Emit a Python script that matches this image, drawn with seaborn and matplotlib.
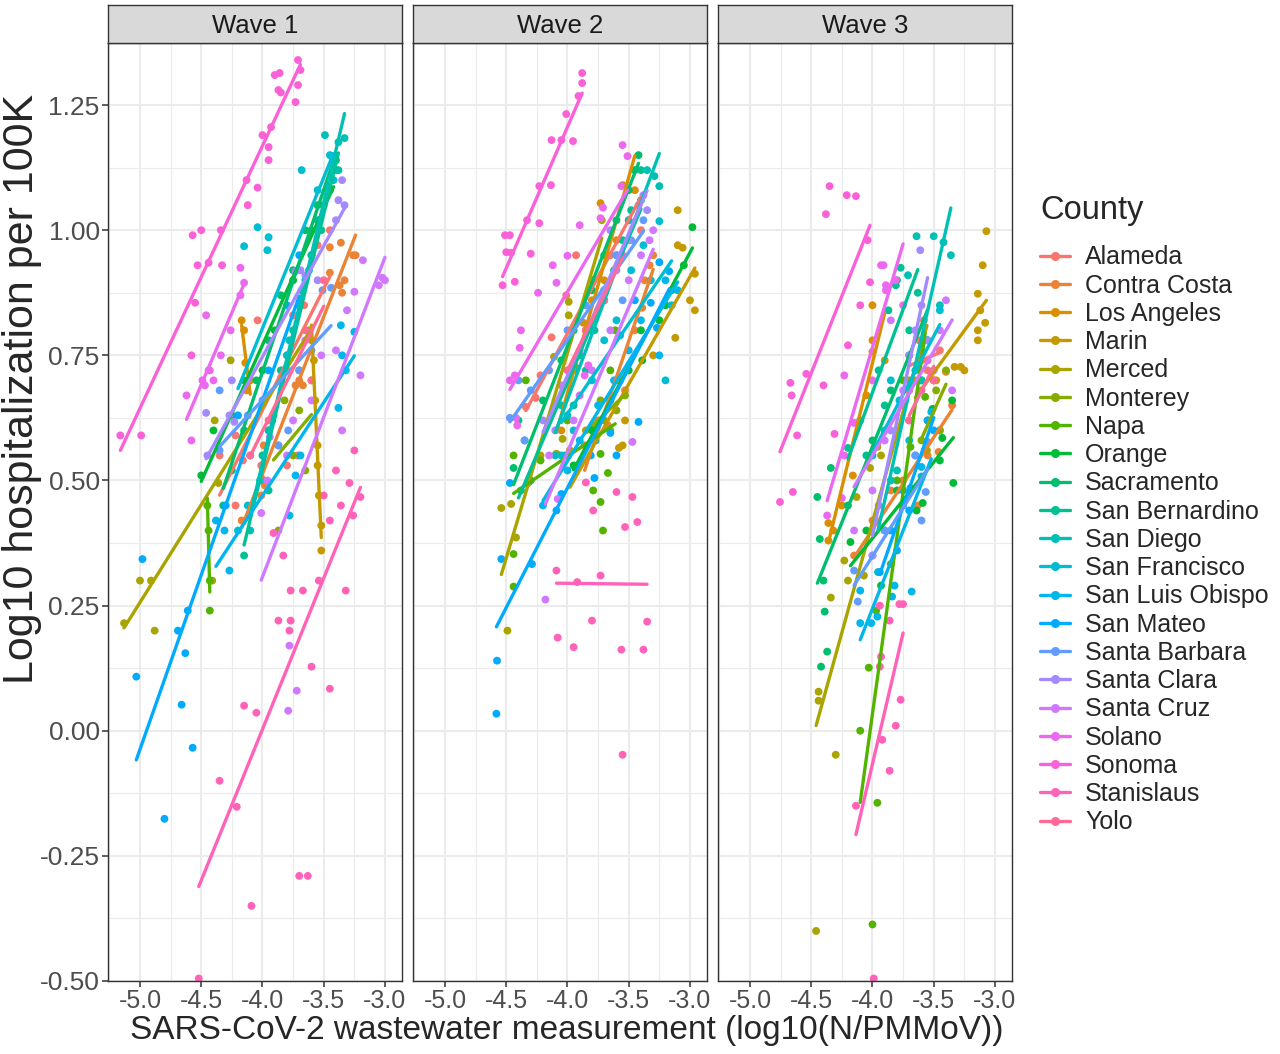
"""Log10 hospitalisation vs SARS-CoV-2 wastewater level, by county and wave."""
import matplotlib
matplotlib.use("Agg")
import matplotlib.pyplot as plt
from matplotlib.lines import Line2D
from matplotlib.ticker import FixedLocator, FormatStrFormatter
import numpy as np
import pandas as pd
import seaborn as sns

sns.set_theme(style="white")
plt.rcParams["font.family"] = ["Liberation Sans", "DejaVu Sans"]
plt.rcParams["axes.unicode_minus"] = False

COUNTIES = ["Alameda", "Contra Costa", "Los Angeles", "Marin", "Merced",
            "Monterey", "Napa", "Orange", "Sacramento", "San Bernardino",
            "San Diego", "San Francisco", "San Luis Obispo", "San Mateo",
            "Santa Barbara", "Santa Clara", "Santa Cruz", "Solano", "Sonoma",
            "Stanislaus", "Yolo"]
WAVES = ["Wave 1", "Wave 2", "Wave 3"]
X_TICKS = [-5.0, -4.5, -4.0, -3.5, -3.0]
Y_TICKS = [-0.50, -0.25, 0.00, 0.25, 0.50, 0.75, 1.00, 1.25]

# ---- Wave 1 (x = log10 N/PMMoV, y = log10 hospitalisations per 100K) ----
alameda_w1 = [(-4.35, 0.55), (-4.22, 0.45), (-4.16, 0.54), (-4.01, 0.53), (-3.80, 0.53),
              (-3.71, 0.55), (-4.22, 0.59), (-4.04, 0.82), (-3.75, 0.83), (-3.66, 0.85),
              (-3.55, 0.97), (-3.45, 1.00)]
contra_costa_w1 = [(-4.17, 0.42), (-4.01, 0.505), (-3.98, 0.49), (-4.01, 0.47), (-3.99, 0.57),
                   (-3.87, 0.57), (-3.73, 0.69), (-3.67, 0.69), (-3.70, 0.70), (-3.45, 0.966),
                   (-3.36, 0.975), (-3.26, 0.95), (-3.24, 0.95), (-3.35, 0.875), (-3.33, 0.90),
                   (-3.37, 0.89), (-3.45, 0.915)]
los_angeles_w1 = [(-4.17, 0.82), (-4.15, 0.80), (-4.14, 0.735), (-4.13, 0.68), (-4.10, 0.70)]
marin_w1 = [(-3.60, 0.78), (-3.58, 0.74), (-3.57, 0.66), (-3.55, 0.57), (-3.55, 0.53),
            (-3.54, 0.47), (-3.52, 0.41), (-3.52, 0.36)]
merced_w1 = [(-5.13, 0.215), (-5.00, 0.30), (-4.91, 0.30), (-4.88, 0.20), (-4.36, 0.495),
             (-4.39, 0.62), (-4.26, 0.74), (-4.41, 0.30), (-3.95, 0.60), (-3.80, 0.75),
             (-3.62, 0.80), (-3.70, 0.72)]
monterey_w1 = [(-3.91, 0.63), (-3.82, 0.66), (-3.87, 0.40), (-3.75, 0.55), (-3.70, 0.64),
               (-3.65, 0.52), (-3.60, 0.70)]
napa_w1 = [(-4.45, 0.45), (-4.44, 0.40), (-4.43, 0.30), (-4.43, 0.24)]
orange_w1 = [(-4.50, 0.51), (-4.40, 0.60), (-4.25, 0.63), (-4.15, 0.70), (-4.00, 0.72),
             (-3.90, 0.80), (-3.75, 0.90), (-3.60, 1.00), (-3.50, 1.05), (-3.42, 1.14),
             (-3.45, 1.10), (-3.70, 0.85)]
sacramento_w1 = [(-4.32, 0.45), (-4.25, 0.52), (-4.15, 0.60), (-4.05, 0.70), (-3.95, 0.78),
                 (-3.85, 0.87), (-3.75, 0.92), (-3.65, 1.00), (-3.55, 1.05), (-3.45, 1.10),
                 (-3.40, 1.14), (-3.60, 0.95)]
san_bernardino_w1 = [(-4.15, 0.35), (-4.08, 0.45), (-4.00, 0.55), (-3.92, 0.62), (-3.85, 0.72),
                     (-3.75, 0.80), (-3.68, 0.88), (-3.60, 0.95), (-3.52, 1.00), (-3.45, 1.08),
                     (-3.38, 1.12), (-3.95, 0.48)]
san_diego_w1 = [(-4.10, 0.40), (-4.02, 0.50), (-3.95, 0.60), (-3.85, 0.70), (-3.78, 0.78),
                (-3.70, 0.85), (-3.62, 0.92), (-3.55, 1.02), (-3.45, 1.08), (-3.40, 1.12),
                (-3.49, 1.19), (-3.38, 1.176), (-3.33, 1.184)]
san_francisco_w1 = [(-4.04, 1.006), (-3.95, 0.986), (-4.15, 0.968), (-3.96, 0.96), (-3.68, 1.12),
                    (-3.55, 1.08), (-3.45, 1.15), (-4.20, 0.40), (-4.12, 0.45), (-3.80, 0.75),
                    (-3.65, 0.90), (-3.42, 1.10)]
san_luis_obispo_w1 = [(-3.73, 0.51), (-3.78, 0.43), (-3.69, 0.55), (-3.38, 0.645), (-3.32, 0.72),
                      (-4.31, 0.40), (-4.27, 0.32), (-4.38, 0.42), (-3.36, 0.81), (-3.25, 0.797),
                      (-3.35, 0.75)]
san_mateo_w1 = [(-5.03, 0.108), (-4.98, 0.343), (-4.80, -0.176), (-4.69, 0.20), (-4.66, 0.052),
                (-4.63, 0.155), (-4.61, 0.24), (-4.57, -0.034), (-4.30, 0.45), (-4.20, 0.63),
                (-4.10, 0.55), (-3.95, 0.72), (-3.80, 0.85), (-3.70, 0.95)]
santa_barbara_w1 = [(-4.35, 0.68), (-4.35, 0.56), (-4.12, 0.63), (-3.87, 0.57), (-3.79, 0.60),
                    (-3.51, 0.88), (-3.44, 0.885), (-3.60, 0.76), (-4.00, 0.66), (-3.70, 0.72)]
santa_clara_w1 = [(-4.46, 0.635), (-4.25, 0.70), (-4.27, 0.63), (-4.23, 0.617), (-3.94, 0.587),
                  (-3.85, 0.705), (-3.73, 0.918), (-3.69, 0.92), (-3.65, 0.91), (-3.35, 1.10),
                  (-3.38, 1.06), (-3.33, 1.05), (-3.40, 1.02), (-4.45, 0.55), (-3.55, 0.90)]
santa_cruz_w1 = [(-4.01, 0.435), (-3.96, 0.50), (-3.80, 0.55), (-3.75, 0.62), (-3.60, 0.66),
                 (-3.52, 0.75), (-3.40, 0.76), (-3.35, 0.60), (-3.20, 0.71), (-3.25, 0.877),
                 (-3.31, 0.84), (-3.18, 0.94), (-3.05, 0.89), (-3.02, 0.905), (-3.00, 0.90),
                 (-3.79, 0.04), (-3.72, 0.08), (-3.78, 0.17), (-3.65, 0.78)]
solano_w1 = [(-4.62, 0.67), (-4.58, 0.58), (-4.49, 0.70), (-4.47, 0.69), (-4.44, 0.72),
             (-4.46, 0.83), (-4.43, 0.72), (-4.18, 0.925), (-4.15, 0.895), (-4.18, 0.87),
             (-4.26, 0.80), (-4.34, 0.75), (-4.40, 0.70)]
sonoma_w1 = [(-5.16, 0.59), (-4.99, 0.59), (-4.57, 0.99), (-4.50, 1.00), (-4.34, 1.00),
             (-4.53, 0.93), (-4.44, 0.935), (-4.33, 0.93), (-4.55, 0.855), (-4.58, 0.75),
             (-4.13, 1.10), (-4.04, 1.085), (-4.12, 1.05), (-4.00, 1.19), (-3.93, 1.206),
             (-3.95, 1.166), (-3.95, 1.14), (-3.90, 1.31), (-3.86, 1.314), (-3.87, 1.28),
             (-3.85, 1.275), (-3.73, 1.256), (-3.71, 1.29), (-3.71, 1.34), (-3.69, 1.32)]
stanislaus_w1 = [(-4.52, -0.495), (-4.09, -0.35), (-4.21, -0.152), (-3.70, -0.29), (-4.05, 0.036),
                 (-3.60, 0.128), (-3.45, 0.084), (-3.87, 0.22), (-3.77, 0.22), (-3.78, 0.20),
                 (-3.83, 0.35), (-3.77, 0.28), (-3.67, 0.28), (-3.54, 0.30), (-3.32, 0.28),
                 (-3.45, 0.42), (-3.36, 0.45), (-3.26, 0.43), (-3.29, 0.495), (-3.20, 0.467),
                 (-3.91, 0.395), (-3.63, -0.29), (-3.25, 0.56), (-3.40, 0.52), (-3.50, 0.47),
                 (-4.35, -0.10), (-4.15, 0.05)]
yolo_w1 = [(-4.10, 0.55), (-3.95, 0.62), (-3.80, 0.72), (-3.65, 0.80), (-3.50, 0.90), (-3.60, 0.70)]

# ---- Wave 2 ----
alameda_w2 = [(-4.34, 0.647), (-4.22, 0.71), (-4.26, 0.665), (-4.32, 0.495), (-4.13, 0.786),
              (-4.01, 0.87), (-3.93, 0.95), (-3.80, 0.90), (-3.65, 0.95), (-3.50, 1.02),
              (-3.40, 1.00), (-3.85, 0.80)]
contra_costa_w2 = [(-3.86, 0.57), (-3.67, 0.61), (-3.53, 0.68), (-3.39, 0.845), (-3.30, 0.95),
                   (-3.33, 0.93), (-3.37, 0.90), (-3.45, 0.80), (-3.60, 0.70), (-3.75, 0.62)]
los_angeles_w2 = [(-4.05, 0.60), (-3.95, 0.72), (-3.87, 0.815), (-3.80, 0.86), (-3.73, 1.054),
                  (-3.70, 0.90), (-3.60, 0.98), (-3.55, 1.09), (-3.45, 1.08), (-4.09, 0.553)]
marin_w2 = [(-3.98, 0.56), (-3.85, 0.60), (-3.55, 0.57), (-3.58, 0.565), (-3.53, 0.62),
            (-3.30, 0.75), (-3.10, 1.04), (-3.10, 0.97), (-3.06, 0.965), (-2.96, 0.913),
            (-3.00, 0.86), (-2.96, 0.84), (-3.12, 0.785)]
merced_w2 = [(-4.54, 0.445), (-4.46, 0.453), (-4.42, 0.386), (-4.49, 0.20), (-4.04, 0.583),
             (-4.09, 0.553), (-4.22, 0.55), (-4.11, 0.747), (-3.99, 0.857), (-3.99, 0.83),
             (-3.80, 0.90), (-3.72, 1.02)]
monterey_w2 = [(-3.79, 0.61), (-3.73, 0.66), (-3.70, 0.62), (-3.57, 0.70), (-3.53, 0.67),
               (-3.60, 0.64), (-3.65, 0.60)]
napa_w2 = [(-4.44, 0.55), (-4.34, 0.70), (-4.22, 0.54), (-4.44, 0.353), (-4.44, 0.288),
           (-3.73, 0.553), (-3.67, 0.515), (-3.79, 0.48), (-3.73, 0.457), (-3.71, 0.40),
           (-3.61, 0.80), (-3.90, 0.75), (-4.00, 0.62), (-3.65, 0.72)]
orange_w2 = [(-3.95, 0.53), (-3.80, 0.60), (-3.65, 0.66), (-3.50, 0.72), (-3.39, 0.74),
             (-3.25, 0.82), (-3.15, 0.88), (-3.05, 0.93), (-2.98, 1.006), (-3.40, 0.80),
             (-3.20, 0.85)]
sacramento_w2 = [(-4.44, 0.525), (-4.35, 0.58), (-4.20, 0.66), (-4.05, 0.74), (-3.95, 0.80),
                 (-3.80, 0.88), (-3.70, 0.95), (-3.60, 1.02), (-3.50, 1.08), (-3.42, 1.15),
                 (-3.45, 1.12), (-4.30, 0.50)]
san_bernardino_w2 = [(-4.02, 0.55), (-3.95, 0.65), (-3.85, 0.72), (-3.78, 0.80), (-3.70, 0.86),
                     (-3.62, 0.92), (-3.55, 0.98), (-3.48, 1.04), (-3.40, 1.12), (-3.90, 0.75),
                     (-4.40, 0.62), (-4.38, 0.48)]
san_diego_w2 = [(-4.10, 0.55), (-4.00, 0.63), (-3.93, 0.725), (-4.05, 0.65), (-3.80, 0.80),
                (-3.70, 0.88), (-3.60, 0.95), (-3.50, 1.02), (-3.40, 1.06), (-3.29, 1.108),
                (-3.25, 1.088), (-3.35, 1.12)]
san_francisco_w2 = [(-4.05, 0.55), (-3.95, 0.60), (-3.80, 0.70), (-3.70, 0.78), (-3.60, 0.82),
                    (-3.48, 0.92), (-3.38, 0.97), (-3.25, 1.018), (-3.32, 0.90), (-3.15, 0.85),
                    (-3.20, 0.70)]
san_luis_obispo_w2 = [(-4.20, 0.45), (-4.00, 0.52), (-3.90, 0.58), (-3.75, 0.65), (-3.62, 0.70),
                      (-3.50, 0.76), (-3.40, 0.82), (-3.20, 0.90), (-3.10, 0.88), (-3.25, 0.75)]
san_mateo_w2 = [(-4.58, 0.034), (-4.575, 0.14), (-4.54, 0.343), (-4.47, 0.495), (-4.29, 0.333),
                (-4.09, 0.44), (-4.05, 0.473), (-3.78, 0.505), (-3.81, 0.55), (-3.77, 0.58),
                (-3.60, 0.55), (-3.65, 0.595), (-3.42, 0.617), (-3.27, 0.805), (-3.17, 0.918),
                (-3.25, 0.936), (-3.32, 0.855), (-3.45, 0.86), (-3.57, 0.79)]
santa_barbara_w2 = [(-4.47, 0.625), (-4.40, 0.70), (-4.30, 0.68), (-4.15, 0.72), (-4.00, 0.80),
                    (-3.85, 0.85), (-3.70, 0.88), (-3.60, 0.95), (-3.48, 0.98), (-3.38, 1.02),
                    (-4.35, 0.58), (-3.55, 0.86)]
santa_clara_w2 = [(-4.20, 0.62), (-4.05, 0.69), (-3.90, 0.76), (-3.75, 0.84), (-3.60, 0.92),
                  (-3.50, 0.98), (-3.42, 1.05), (-3.38, 1.07), (-3.35, 1.04), (-3.65, 1.00),
                  (-4.10, 0.60)]
santa_cruz_w2 = [(-4.08, 0.463), (-4.18, 0.262), (-3.47, 0.577), (-4.03, 0.69), (-4.15, 0.55),
                 (-3.95, 0.62), (-3.80, 0.72), (-3.65, 0.80), (-3.50, 0.90), (-3.40, 0.95),
                 (-3.33, 0.98), (-3.30, 1.00)]
solano_w2 = [(-4.38, 0.80), (-4.39, 0.765), (-4.12, 0.93), (-4.24, 0.875), (-4.09, 0.895),
             (-4.00, 0.949), (-3.90, 1.01), (-3.73, 1.024), (-3.71, 1.045), (-3.55, 1.17),
             (-3.51, 1.148), (-3.56, 1.088), (-4.47, 0.70), (-4.43, 0.71), (-4.42, 0.625),
             (-4.41, 0.61), (-3.90, 0.67), (-3.86, 0.71), (-3.83, 0.73)]
sonoma_w2 = [(-4.53, 0.89), (-4.51, 0.99), (-4.47, 0.99), (-4.50, 0.956), (-4.46, 0.955),
             (-4.43, 0.897), (-4.30, 0.953), (-4.33, 1.02), (-4.23, 1.014), (-4.23, 1.088),
             (-4.135, 1.09), (-4.13, 1.18), (-4.05, 1.18), (-3.955, 1.178), (-4.01, 1.232),
             (-3.91, 1.268), (-3.88, 1.294), (-3.88, 1.314)]
stanislaus_w2 = [(-4.09, 0.32), (-3.92, 0.297), (-3.73, 0.31), (-4.08, 0.186), (-3.95, 0.167),
                 (-3.80, 0.22), (-3.56, 0.162), (-3.38, 0.162), (-3.35, 0.218), (-3.55, -0.048),
                 (-3.60, 0.477), (-3.47, 0.467), (-3.53, 0.407), (-3.43, 0.417), (-3.79, 0.44),
                 (-3.85, 0.496)]
yolo_w2 = [(-4.00, 0.72), (-3.85, 0.80), (-3.70, 0.86), (-3.55, 0.95)]

# ---- Wave 3 ----
alameda_w3 = [(-3.55, 0.72), (-3.50, 0.70), (-3.62, 0.78), (-3.45, 0.76), (-3.70, 0.68),
              (-3.58, 0.82)]
contra_costa_w3 = [(-4.15, 0.35), (-4.00, 0.42), (-3.85, 0.48), (-3.63, 0.45), (-3.46, 0.557),
                   (-3.45, 0.60), (-3.40, 0.717), (-3.55, 0.55), (-3.35, 0.65), (-3.75, 0.50)]
los_angeles_w3 = [(-4.36, 0.415), (-4.32, 0.40), (-4.36, 0.38), (-4.16, 0.51), (-4.05, 0.67),
                  (-4.00, 0.85), (-4.00, 0.78), (-4.00, 0.757), (-4.25, 0.45), (-3.90, 0.74)]
marin_w3 = [(-3.07, 0.998), (-3.10, 0.93), (-3.14, 0.873), (-3.12, 0.84), (-3.08, 0.815),
            (-3.14, 0.80), (-3.14, 0.78), (-3.33, 0.727), (-3.28, 0.727), (-3.25, 0.72),
            (-3.48, 0.70), (-3.60, 0.74), (-3.65, 0.70)]
merced_w3 = [(-4.46, -0.40), (-4.44, 0.078), (-4.44, 0.06), (-4.30, -0.048), (-4.34, 0.266),
             (-4.23, 0.34), (-4.20, 0.30), (-4.07, 0.31), (-4.02, 0.525), (-4.13, 0.467),
             (-3.96, 0.567), (-3.93, 0.55), (-3.555, 0.56), (-3.70, 0.70), (-3.60, 0.76)]
monterey_w3 = [(-3.48, 0.68), (-3.55, 0.62), (-3.40, 0.72), (-3.60, 0.58), (-3.45, 0.60)]
napa_w3 = [(-4.00, -0.387), (-3.96, -0.144), (-4.03, 0.126), (-3.97, 0.24), (-3.85, 0.333),
           (-3.69, 0.567), (-3.57, 0.667), (-3.75, 0.70), (-3.80, 0.50), (-4.10, 0.00)]
orange_w3 = [(-3.34, 0.495), (-3.43, 0.585), (-3.45, 0.54), (-3.51, 0.643), (-3.59, 0.455),
             (-3.64, 0.44), (-3.93, 0.29), (-4.18, 0.377), (-4.05, 0.40), (-3.80, 0.48),
             (-3.35, 0.66)]
sacramento_w3 = [(-4.43, 0.383), (-4.45, 0.467), (-4.34, 0.525), (-4.39, 0.238), (-4.37, 0.158),
                 (-4.42, 0.128), (-4.40, 0.30), (-4.20, 0.45), (-4.00, 0.58), (-3.85, 0.68),
                 (-3.70, 0.75), (-3.55, 0.78), (-3.80, 0.90), (-3.60, 0.70)]
san_bernardino_w3 = [(-4.20, 0.565), (-4.10, 0.62), (-3.95, 0.72), (-3.77, 0.925), (-3.81, 0.89),
                     (-3.87, 0.84), (-3.70, 0.80), (-3.63, 0.875), (-4.05, 0.55), (-3.90, 0.65)]
san_diego_w3 = [(-3.955, 0.317), (-3.90, 0.40), (-3.80, 0.52), (-3.70, 0.62), (-3.64, 0.988),
                (-3.50, 0.988), (-3.42, 0.976), (-3.36, 0.95), (-3.71, 0.91), (-3.565, 0.78),
                (-3.60, 0.70), (-3.85, 0.50), (-3.45, 0.85)]
san_francisco_w3 = [(-4.00, 0.55), (-3.90, 0.60), (-3.78, 0.66), (-3.65, 0.72), (-3.55, 0.78),
                    (-3.45, 0.84), (-3.70, 0.58), (-3.85, 0.70)]
san_luis_obispo_w3 = [(-4.10, 0.28), (-3.82, 0.29), (-3.68, 0.278), (-4.10, 0.215), (-4.01, 0.215),
                      (-3.96, 0.228), (-3.84, 0.268), (-3.69, 0.485), (-3.60, 0.527), (-3.60, 0.508),
                      (-3.52, 0.637), (-3.75, 0.45)]
san_mateo_w3 = [(-3.94, 0.317), (-3.85, 0.40), (-3.75, 0.48), (-3.65, 0.55), (-3.55, 0.62),
                (-3.50, 0.60), (-3.70, 0.44), (-3.80, 0.36)]
santa_barbara_w3 = [(-4.12, 0.258), (-4.15, 0.32), (-3.60, 0.42), (-3.565, 0.477), (-3.55, 0.577),
                    (-3.90, 0.40), (-3.75, 0.45), (-3.65, 0.55), (-4.00, 0.35)]
santa_clara_w3 = [(-3.61, 0.96), (-3.65, 0.80), (-3.60, 0.85), (-3.55, 0.78), (-3.70, 0.75),
                  (-3.85, 0.60), (-3.95, 0.45), (-4.00, 0.35), (-3.75, 0.65)]
santa_cruz_w3 = [(-4.15, 0.40), (-4.00, 0.48), (-3.90, 0.58), (-3.75, 0.68), (-3.60, 0.75),
                 (-3.45, 0.80), (-3.40, 0.86), (-3.50, 0.72), (-3.35, 0.68), (-3.85, 0.82)]
solano_w3 = [(-3.93, 0.93), (-3.91, 0.93), (-3.89, 0.89), (-3.89, 0.88), (-3.81, 0.90),
             (-4.37, 0.43), (-4.25, 0.465), (-4.23, 0.71), (-4.15, 0.615), (-4.23, 0.55),
             (-4.00, 0.70), (-3.75, 0.85)]
sonoma_w3 = [(-4.35, 1.088), (-4.38, 1.032), (-4.21, 1.07), (-4.135, 1.068), (-4.04, 0.98),
             (-4.02, 0.896), (-4.10, 0.85), (-4.20, 0.77), (-4.67, 0.695), (-4.66, 0.67),
             (-4.54, 0.713), (-4.615, 0.59), (-4.40, 0.69), (-4.755, 0.457), (-4.65, 0.477),
             (-4.31, 0.593)]
stanislaus_w3 = [(-3.99, -0.495), (-4.135, -0.15), (-3.86, -0.08), (-3.92, -0.018), (-3.81, 0.01),
                 (-3.77, 0.062), (-3.94, 0.128), (-3.78, 0.253), (-3.75, 0.253), (-3.94, 0.25),
                 (-3.86, 0.22), (-3.93, 0.148)]
yolo_w3 = [(-3.70, 0.62), (-3.60, 0.68), (-3.50, 0.70), (-3.55, 0.74)]

wave1 = [alameda_w1, contra_costa_w1, los_angeles_w1, marin_w1, merced_w1, monterey_w1,
         napa_w1, orange_w1, sacramento_w1, san_bernardino_w1, san_diego_w1, san_francisco_w1,
         san_luis_obispo_w1, san_mateo_w1, santa_barbara_w1, santa_clara_w1, santa_cruz_w1,
         solano_w1, sonoma_w1, stanislaus_w1, yolo_w1]
wave2 = [alameda_w2, contra_costa_w2, los_angeles_w2, marin_w2, merced_w2, monterey_w2,
         napa_w2, orange_w2, sacramento_w2, san_bernardino_w2, san_diego_w2, san_francisco_w2,
         san_luis_obispo_w2, san_mateo_w2, santa_barbara_w2, santa_clara_w2, santa_cruz_w2,
         solano_w2, sonoma_w2, stanislaus_w2, yolo_w2]
wave3 = [alameda_w3, contra_costa_w3, los_angeles_w3, marin_w3, merced_w3, monterey_w3,
         napa_w3, orange_w3, sacramento_w3, san_bernardino_w3, san_diego_w3, san_francisco_w3,
         san_luis_obispo_w3, san_mateo_w3, santa_barbara_w3, santa_clara_w3, santa_cruz_w3,
         solano_w3, sonoma_w3, stanislaus_w3, yolo_w3]


def gg_hue(n, l=65, c=100):
    """ggplot2's default discrete hue palette (polar Luv -> sRGB)."""
    hues = 15 + 360 * np.arange(n) / n
    xn, yn, zn = 95.047, 100.0, 108.883
    un = 4 * xn / (xn + 15 * yn + 3 * zn)
    vn = 9 * yn / (xn + 15 * yn + 3 * zn)
    y = yn * ((l + 16) / 116) ** 3
    m = np.array([[3.240479, -1.537150, -0.498535],
                  [-0.969256, 1.875992, 0.041556],
                  [0.055648, -0.204043, 1.057311]])
    cols = []
    for h in np.radians(hues):
        u = c * np.cos(h) / (13 * l) + un
        v = c * np.sin(h) / (13 * l) + vn
        x = y * 9 * u / (4 * v)
        z = y * (12 - 3 * u - 20 * v) / (4 * v)
        rgb = m @ (np.array([x, y, z]) / 100)
        rgb = np.where(rgb <= 0.0031308, 12.92 * rgb, 1.055 * np.abs(rgb) ** (1 / 2.4) - 0.055)
        cols.append(tuple(np.clip(rgb, 0, 1)))
    return cols


palette = dict(zip(COUNTIES, gg_hue(len(COUNTIES))))

rows = []
for wave, groups in zip(WAVES, [wave1, wave2, wave3]):
    for county, pts in zip(COUNTIES, groups):
        for x, y in pts:
            rows.append((wave, county, x, y))
df = pd.DataFrame(rows, columns=["wave", "County", "x", "y"])

W, H = 1280, 1054
fig = plt.figure(figsize=(W / 100, H / 100), dpi=100)
panel_left = [108, 413, 718]
panel_w, panel_top, panel_bot = 294, 43, 981
border = "#333333"

for i, (wave, left) in enumerate(zip(WAVES, panel_left)):
    ax = fig.add_axes([left / W, (H - panel_bot) / H, panel_w / W, (panel_bot - panel_top) / H])
    sub = df[df.wave == wave]
    sns.scatterplot(data=sub, x="x", y="y", hue="County", hue_order=COUNTIES,
                    palette=palette, s=32, linewidth=0, legend=False, ax=ax, zorder=2)
    for county in COUNTIES:
        grp = sub[sub.County == county]
        if len(grp) < 2:
            continue
        sns.regplot(data=grp, x="x", y="y", scatter=False, ci=None, truncate=True,
                    color=palette[county], line_kws={"lw": 2.4, "zorder": 3}, ax=ax)

    ax.set_xlim(-5.261, -2.861)
    ax.set_ylim(-0.5, 1.374)
    ax.xaxis.set_major_locator(FixedLocator(X_TICKS))
    ax.xaxis.set_minor_locator(FixedLocator([-5.25, -4.75, -4.25, -3.75, -3.25]))
    ax.yaxis.set_major_locator(FixedLocator(Y_TICKS))
    ax.yaxis.set_minor_locator(FixedLocator([v + 0.125 for v in Y_TICKS]))
    ax.xaxis.set_major_formatter(FormatStrFormatter("%.1f"))
    ax.yaxis.set_major_formatter(FormatStrFormatter("%.2f"))
    ax.grid(which="major", color="#EBEBEB", lw=1.5)
    ax.grid(which="minor", color="#EBEBEB", lw=0.8)
    ax.set_axisbelow(True)
    ax.set_facecolor("white")
    for sp in ax.spines.values():
        sp.set_color(border)
        sp.set_linewidth(1.0)
    ax.tick_params(axis="x", which="major", bottom=True, length=4, width=1.1, color=border,
                   labelsize=18, labelcolor="#4D4D4D", pad=2)
    ax.tick_params(axis="y", which="major", left=(i == 0), labelleft=(i == 0), length=4,
                   width=1.1, color=border, labelsize=19, labelcolor="#4D4D4D", pad=2)
    ax.tick_params(which="minor", length=0)
    ax.set_xlabel("")
    ax.set_ylabel("")

    strip = fig.add_axes([left / W, (H - panel_top) / H, panel_w / W, 38 / H])
    strip.set_facecolor("#D9D9D9")
    strip.set_xticks([])
    strip.set_yticks([])
    for sp in strip.spines.values():
        sp.set_color(border)
        sp.set_linewidth(1.0)
    strip.text(0.5, 0.45, wave, ha="center", va="center", fontsize=18.5, color="#1A1A1A",
               transform=strip.transAxes)

fig.text(567 / W, 1 - 1030 / H, "SARS-CoV-2 wastewater measurement (log10(N/PMMoV))",
         ha="center", va="center", fontsize=24)
fig.text(22 / W, 1 - 389 / H, "Log10 hospitalization per 100K", rotation=90,
         ha="center", va="center", fontsize=31)

handles = [Line2D([], [], color=palette[c], marker="o", markersize=5.5, lw=2.4) for c in COUNTIES]
leg = fig.legend(handles, COUNTIES, title="County", loc="upper left",
                 bbox_to_anchor=(1030 / W, 1 - 185 / H), frameon=False, fontsize=18,
                 title_fontsize=23.5, handlelength=1.2, handletextpad=0.6, labelspacing=0.17,
                 borderaxespad=0)
leg._legend_box.align = "left"
leg._legend_box.sep = 14

fig.savefig("out.png", dpi=100)
